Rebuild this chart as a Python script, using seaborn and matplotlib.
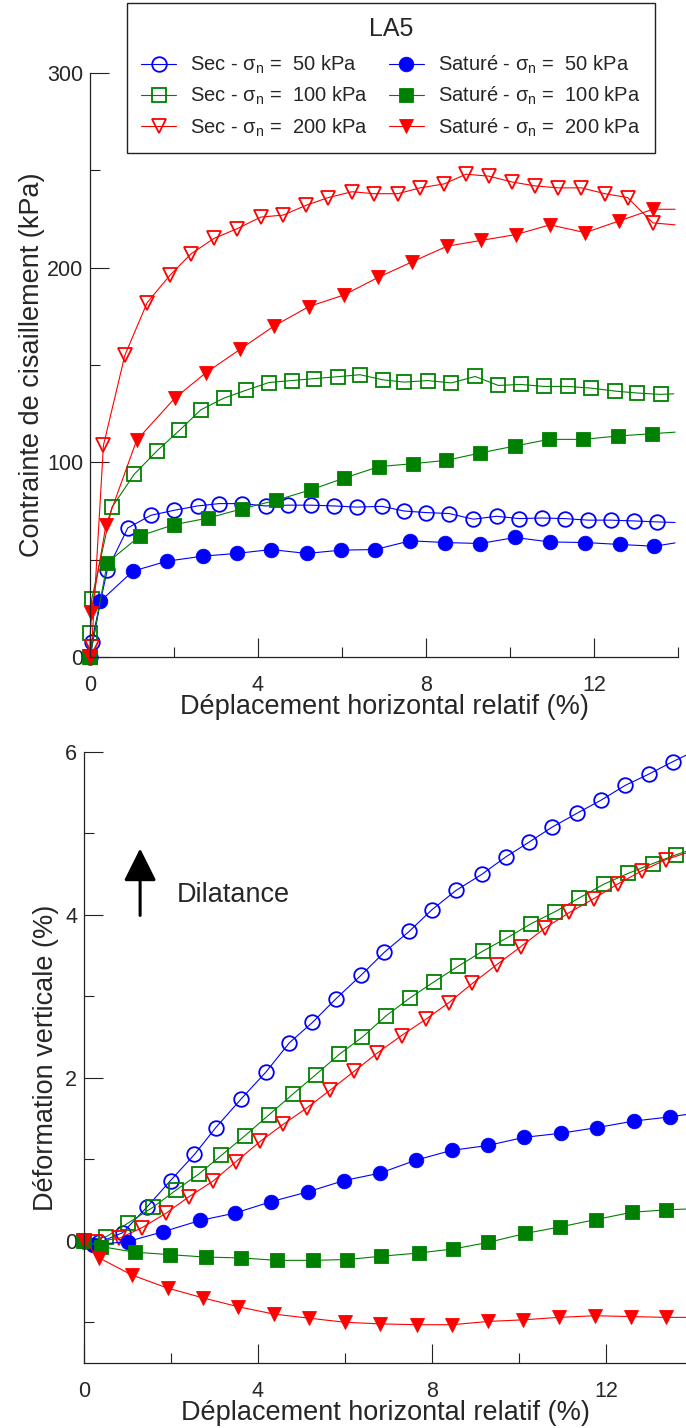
import matplotlib
matplotlib.use('Agg')
import matplotlib.pyplot as plt
import seaborn as sns
from matplotlib.ticker import MultipleLocator

# Top panel: shear stress (kPa) vs relative horizontal displacement (%)
t_sec50_x = [0, 0.04, 0.41, 0.90, 1.45, 2.01, 2.56, 3.08, 3.63, 4.18, 4.72, 5.26, 5.81, 6.35, 6.95,
             7.48, 7.99, 8.55, 9.13, 9.68, 10.22, 10.75, 11.31, 11.86, 12.40, 12.95, 13.49, 13.93]
t_sec50_y = [0, 7.8, 44.6, 66.3, 72.8, 75.4, 77.6, 78.8, 78.8, 77.6, 78.0, 78.0, 77.6, 77.0, 77.4,
             75.0, 74.2, 73.7, 70.8, 72.3, 71.1, 71.4, 71.1, 70.3, 70.3, 69.9, 69.4, 69.1]
t_sec100_x = [0, 0.01, 0.04, 0.52, 1.05, 1.59, 2.13, 2.64, 3.19, 3.71, 4.26, 4.80, 5.33, 5.90, 6.43,
              6.97, 7.48, 8.04, 8.60, 9.17, 9.72, 10.26, 10.81, 11.37, 11.94, 12.50, 13.03, 13.59, 13.90]
t_sec100_y = [0, 12.1, 29.6, 76.8, 93.8, 105.8, 116.4, 127, 133, 137, 141, 142, 143, 144, 145,
              142.4, 141.2, 142, 140.8, 144.1, 139.5, 140, 139, 139, 138.1, 136.6, 135.6, 134.9, 135.2]
t_sec200_x = [0, 0.04, 0.32, 0.83, 1.36, 1.90, 2.40, 2.95, 3.50, 4.07, 4.60, 5.14, 5.67, 6.24, 6.76,
              7.33, 7.86, 8.43, 8.95, 9.50, 10.05, 10.60, 11.14, 11.70, 12.26, 12.80, 13.40, 13.93]
t_sec200_y = [0, 5.1, 108.7, 155, 182, 196, 207, 215, 220, 226, 227, 232, 236, 239, 238,
              238, 241, 243, 248, 247, 244, 242, 241, 241, 238, 236, 223, 222]
t_sat50_x = [0, 0.25, 1.02, 1.83, 2.68, 3.49, 4.31, 5.16, 5.98, 6.79, 7.63, 8.45, 9.29, 10.12,
             10.95, 11.79, 12.62, 13.44, 13.93]
t_sat50_y = [0, 28.7, 44.1, 49.2, 51.8, 53.2, 55.2, 53.2, 54.9, 55.2, 59.7, 58.8, 58.3, 61.4,
             59.1, 58.8, 57.8, 56.9, 58.6]
t_sat100_x = [0, 0.41, 1.19, 2.00, 2.82, 3.63, 4.43, 5.26, 6.05, 6.88, 7.68, 8.48, 9.29, 10.12,
              10.93, 11.73, 12.56, 13.37, 13.93]
t_sat100_y = [0, 48.4, 62.2, 68.0, 71.4, 76.2, 80.5, 85.9, 91.9, 97.8, 99.3, 101, 104.8, 108.4,
              111.8, 111.8, 113.5, 114.7, 115.5]
t_sat200_x = [0, 0.02, 0.38, 1.11, 2.02, 2.76, 3.57, 4.38, 5.21, 6.05, 6.86, 7.67, 8.50, 9.31,
              10.14, 10.95, 11.79, 12.60, 13.40, 13.93]
t_sat200_y = [0, 22.4, 67.7, 111.3, 133, 146, 158, 170, 180, 186, 195, 203, 211, 214,
              217, 222, 218, 224, 230, 230]

# Bottom panel: vertical strain (%) vs relative horizontal displacement (%)
b_sec50_x = [0, 0.35, 0.89, 1.44, 1.99, 2.54, 3.03, 3.61, 4.18, 4.72, 5.25, 5.79, 6.37, 6.90,
             7.48, 7.99, 8.55, 9.15, 9.69, 10.22, 10.77, 11.34, 11.89, 12.44, 12.99, 13.53, 13.84]
b_sec50_y = [0, -0.02, 0.10, 0.41, 0.74, 1.06, 1.39, 1.74, 2.07, 2.43, 2.68, 2.97, 3.26, 3.54,
             3.80, 4.06, 4.30, 4.50, 4.71, 4.89, 5.08, 5.25, 5.41, 5.59, 5.73, 5.88, 5.96]
b_sec100_x = [0, 0.51, 1.02, 1.58, 2.11, 2.64, 3.16, 3.70, 4.26, 4.80, 5.33, 5.87, 6.40, 6.94,
              7.49, 8.05, 8.60, 9.18, 9.73, 10.27, 10.83, 11.39, 11.96, 12.51, 13.07, 13.62, 13.84]
b_sec100_y = [0, 0.05, 0.22, 0.41, 0.62, 0.82, 1.05, 1.29, 1.55, 1.80, 2.04, 2.29, 2.50, 2.76,
              2.98, 3.18, 3.37, 3.56, 3.72, 3.89, 4.04, 4.21, 4.38, 4.51, 4.63, 4.74, 4.78]
b_sec200_x = [0, 0.27, 0.81, 1.33, 1.89, 2.41, 2.96, 3.49, 4.05, 4.58, 5.12, 5.66, 6.21, 6.73,
              7.30, 7.86, 8.38, 8.93, 9.49, 10.04, 10.60, 11.16, 11.72, 12.27, 12.82, 13.38, 13.84]
b_sec200_y = [0, -0.01, 0.03, 0.16, 0.34, 0.54, 0.73, 0.97, 1.22, 1.43, 1.63, 1.85, 2.08, 2.30,
              2.52, 2.72, 2.92, 3.16, 3.39, 3.61, 3.84, 4.03, 4.20, 4.38, 4.54, 4.68, 4.76]
b_sat50_x = [0, 0.21, 1.00, 1.81, 2.67, 3.47, 4.30, 5.14, 5.98, 6.80, 7.63, 8.45, 9.28, 10.12,
             10.96, 11.80, 12.64, 13.46, 13.84]
b_sat50_y = [0, -0.05, -0.01, 0.11, 0.25, 0.34, 0.48, 0.60, 0.74, 0.83, 0.99, 1.11, 1.17, 1.27,
             1.32, 1.39, 1.47, 1.52, 1.55]
b_sat100_x = [0, 0.38, 1.17, 1.98, 2.80, 3.61, 4.43, 5.26, 6.04, 6.82, 7.69, 8.49, 9.29, 10.14,
              10.94, 11.76, 12.59, 13.39, 13.84]
b_sat100_y = [0, -0.07, -0.14, -0.17, -0.20, -0.21, -0.24, -0.24, -0.23, -0.19, -0.15, -0.10, -0.02,
              0.09, 0.17, 0.26, 0.35, 0.38, 0.39]
b_sat200_x = [0, 0.35, 1.10, 1.92, 2.73, 3.55, 4.37, 5.18, 6.00, 6.81, 7.65, 8.47, 9.29, 10.10,
              10.92, 11.75, 12.57, 13.38, 13.84]
b_sat200_y = [0, -0.21, -0.42, -0.58, -0.70, -0.81, -0.90, -0.95, -1.00, -1.02, -1.03, -1.03, -0.99,
              -0.97, -0.94, -0.92, -0.93, -0.94, -0.94]

labels = ['Sec - σ$_\\mathregular{n}$ =  50 kPa', 'Sec - σ$_\\mathregular{n}$ =  100 kPa',
          'Sec - σ$_\\mathregular{n}$ =  200 kPa', 'Saturé - σ$_\\mathregular{n}$ =  50 kPa',
          'Saturé - σ$_\\mathregular{n}$ =  100 kPa', 'Saturé - σ$_\\mathregular{n}$ =  200 kPa']
colors = ['#0000FF', '#008000', '#FF0000', '#0000FF', '#008000', '#FF0000']
markers = ['o', 's', 'v', 'o', 's', 'v']
filled = [False, False, False, True, True, True]

sns.set_style('ticks')
plt.rcParams['font.family'] = ['Liberation Sans', 'DejaVu Sans']
plt.rcParams['mathtext.fontset'] = 'custom'
plt.rcParams['mathtext.rm'] = 'Liberation Sans'

W, H = 686, 1428
fig = plt.figure(figsize=(W / 100, H / 100), dpi=100)
ax1 = fig.add_axes([90 / W, 1 - 657 / H, 588 / W, 584 / H])
ax2 = fig.add_axes([84 / W, 1 - 1363 / H, 602 / W, 611 / H])


def draw(ax, xs, ys):
    handles = []
    for i, (x, y) in enumerate(zip(xs, ys)):
        ms = 10.5 if markers[i] == 'o' else 10
        sns.lineplot(x=x, y=y, ax=ax, sort=False, estimator=None, color=colors[i], lw=0.8,
                     marker=markers[i], markersize=ms, markevery=slice(0, len(x) - 1),
                     markerfacecolor=colors[i] if filled[i] else 'none',
                     markeredgecolor=colors[i], markeredgewidth=0.6 if filled[i] else 1.3,
                     clip_on=False, legend=False)
        handles.append(ax.lines[-1])
    return handles


handles = draw(ax1, [t_sec50_x, t_sec100_x, t_sec200_x, t_sat50_x, t_sat100_x, t_sat200_x],
               [t_sec50_y, t_sec100_y, t_sec200_y, t_sat50_y, t_sat100_y, t_sat200_y])
draw(ax2, [b_sec50_x, b_sec100_x, b_sec200_x, b_sat50_x, b_sat100_x, b_sat200_x],
     [b_sec50_y, b_sec100_y, b_sec200_y, b_sat50_y, b_sat100_y, b_sat200_y])

ax1.set_xlim(0, 14)
ax1.set_ylim(0, 300)
ax1.xaxis.set_major_locator(MultipleLocator(4))
ax1.xaxis.set_minor_locator(MultipleLocator(2))
ax1.yaxis.set_major_locator(MultipleLocator(100))
ax1.yaxis.set_minor_locator(MultipleLocator(50))

ax2.set_xlim(0, 602 / 43.5)
ax2.set_ylim(-1.5, 6)
ax2.xaxis.set_major_locator(MultipleLocator(4))
ax2.xaxis.set_minor_locator(MultipleLocator(2))
ax2.yaxis.set_major_locator(MultipleLocator(2))
ax2.yaxis.set_minor_locator(MultipleLocator(1))

for ax in (ax1, ax2):
    sns.despine(ax=ax)
    for s in ('left', 'bottom'):
        ax.spines[s].set_color('#222222')
        ax.spines[s].set_linewidth(0.9)
    ax.tick_params(which='major', direction='in', length=14, width=0.8, color='#222222',
                   labelsize=15.5, pad=5)
    ax.tick_params(which='minor', direction='in', length=7, width=0.8, color='#222222')
    ax.tick_params(axis='x', which='major', pad=13)
    ax.set_facecolor('none')

ax1.set_xlabel('Déplacement horizontal relatif (%)', fontsize=19.5, va='center')
ax1.xaxis.set_label_coords(0.5, -50 / 584)
ax1.set_ylabel('Contrainte de cisaillement (kPa)', fontsize=19.5, va='center')
ax1.yaxis.set_label_coords(-58 / 588, 0.5)

ax2.set_xlabel('Déplacement horizontal relatif (%)', fontsize=19.5, va='center')
ax2.xaxis.set_label_coords(0.5, -50 / 611)
ax2.set_ylabel('Déformation verticale (%)', fontsize=19.5, va='center')
ax2.yaxis.set_label_coords(-38 / 602, 0.5)

ax2.annotate('', xy=(1.29, 4.85), xytext=(1.29, 3.96),
             arrowprops=dict(arrowstyle='-|>,head_length=1.0,head_width=0.5',
                             mutation_scale=20, lw=2.2, color='black'))
ax2.text(2.14, 4.25, 'Dilatance', fontsize=19.5, ha='left', va='center')

leg = fig.legend(handles=handles, labels=labels, loc='upper left', ncol=2,
                 bbox_to_anchor=(127 / W, 1 - 3 / H), borderaxespad=0, title='LA5',
                 fontsize=14.5, title_fontsize=18, frameon=True, fancybox=False,
                 edgecolor='#222222', framealpha=1, handlelength=1.75, handletextpad=0.7,
                 columnspacing=1.0, labelspacing=0.45, borderpad=0.7)
leg.get_frame().set_linewidth(1.0)
leg._legend_box.sep = 9

fig.savefig('out.png', dpi=100)
